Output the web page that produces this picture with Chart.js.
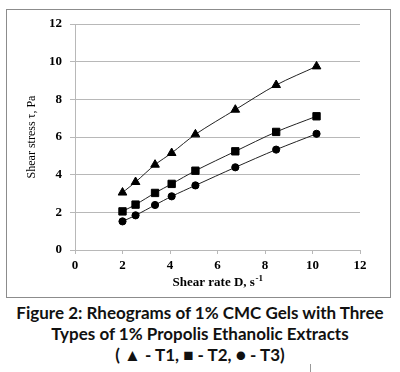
<!DOCTYPE html>
<html>
<head>
<meta charset="utf-8">
<script src="https://cdn.jsdelivr.net/npm/chart.js@4"></script>
<style>
  html, body { margin: 0; padding: 0; background: #fff; }
  body { width: 400px; height: 372px; position: relative; overflow: hidden; }
  #box { position: absolute; left: 6px; top: 9px; width: 383px; height: 287px; border: 1px solid #8c8c8c; }
  #c { position: absolute; left: 0; top: 0; }
  #caption { position: absolute; left: 0; top: 302px; width: 400px; text-align: center;
    font-family: Lato, "Open Sans", sans-serif; font-weight: bold; font-size: 17px; line-height: 21px; color: #111; }
  #mark { position: absolute; left: 310px; top: 364px; width: 1px; height: 8px; background: #999; }
</style>
</head>
<body>
<div id="box"></div>
<canvas id="c" width="400" height="300"></canvas>
<div id="caption">Figure 2: Rheograms of 1% CMC Gels with Three<br>Types of 1% Propolis Ethanolic Extracts<br>( ▲ - T1, ■ - T2, ● - T3)</div>
<div id="mark"></div>
<script>
const shearRate = [2.0, 2.55, 3.37, 4.07, 5.07, 6.75, 8.47, 10.17];
const stressT1 = [3.05, 3.61, 4.53, 5.15, 6.14, 7.45, 8.76, 9.75];
const stressT2 = [2.05, 2.41, 3.03, 3.51, 4.21, 5.24, 6.27, 7.10];
const stressT3 = [1.52, 1.84, 2.39, 2.85, 3.43, 4.39, 5.33, 6.17];
const seriesNames = ["T1", "T2", "T3"];
const xTicks = [0, 2, 4, 6, 8, 10, 12];
const yTicks = [0, 2, 4, 6, 8, 10, 12];
const yTitle = "Shear stress τ, Pa";
const xTitleMain = "Shear rate D, s";
const xTitleSup = "-1";

function pts(ys) { return shearRate.map((x, i) => ({ x: x, y: ys[i] })); }

const tickFont = { family: "'Liberation Serif', 'Times New Roman', serif", size: 13, weight: 'bold' };
const gridColor = '#b8b8b8';

const xTitlePlugin = {
  id: 'xTitle',
  afterDraw(chart) {
    const ctx = chart.ctx;
    const area = chart.chartArea;
    const cx = (area.left + area.right) / 2;
    const baseY = 286;
    ctx.save();
    ctx.fillStyle = '#000';
    ctx.textBaseline = 'alphabetic';
    const mainFont = "bold 13px 'Liberation Serif', serif";
    const supFont = "bold 9px 'Liberation Serif', serif";
    ctx.font = mainFont;
    const w1 = ctx.measureText(xTitleMain).width;
    ctx.font = supFont;
    const w2 = ctx.measureText(xTitleSup).width;
    const start = cx - (w1 + w2) / 2;
    ctx.font = mainFont;
    ctx.textAlign = 'left';
    ctx.fillText(xTitleMain, start, baseY);
    ctx.font = supFont;
    ctx.fillText(xTitleSup, start + w1 + 0.5, baseY - 5);
    ctx.restore();
  }
};

const common = { borderColor: '#222', backgroundColor: '#000', borderWidth: 1, pointBorderWidth: 1,
  pointBorderColor: '#000', pointBackgroundColor: '#000', showLine: true, tension: 0.3, fill: false };

new Chart(document.getElementById('c'), {
  type: 'scatter',
  data: {
    datasets: [
      Object.assign({ label: seriesNames[0], data: pts(stressT1), pointStyle: 'triangle', pointRadius: 5 }, common),
      Object.assign({ label: seriesNames[1], data: pts(stressT2), pointStyle: 'rect', pointRadius: 5.2 }, common),
      Object.assign({ label: seriesNames[2], data: pts(stressT3), pointStyle: 'circle', pointRadius: 3.6 }, common)
    ]
  },
  options: {
    responsive: false,
    animation: false,
    devicePixelRatio: 1,
    layout: { padding: { left: 21, top: 24, right: 40, bottom: 0 } },
    plugins: { legend: { display: false }, tooltip: { enabled: false } },
    scales: {
      x: {
        type: 'linear', min: 0, max: 12,
        afterBuildTicks(scale) { scale.ticks = xTicks.map(v => ({ value: v })); },
        afterFit(scale) { scale.height = 50; },
        grid: { drawOnChartArea: false, drawTicks: true, tickLength: 4, color: gridColor },
        border: { display: true, color: gridColor },
        ticks: { font: tickFont, color: '#000', padding: 4, maxRotation: 0 }
      },
      y: {
        type: 'linear', min: 0, max: 12,
        afterBuildTicks(scale) { scale.ticks = yTicks.map(v => ({ value: v })); },
        afterFit(scale) { scale.width = 54; },
        grid: { drawOnChartArea: true, drawTicks: true, tickLength: 5, color: gridColor },
        border: { display: true, color: gridColor },
        ticks: { font: tickFont, color: '#000', padding: 8 },
        title: { display: true, text: yTitle, color: '#000',
          font: { family: "'Liberation Serif', 'Times New Roman', serif", size: 12, weight: 'normal' } }
      }
    }
  },
  plugins: [xTitlePlugin]
});
</script>
</body>
</html>
